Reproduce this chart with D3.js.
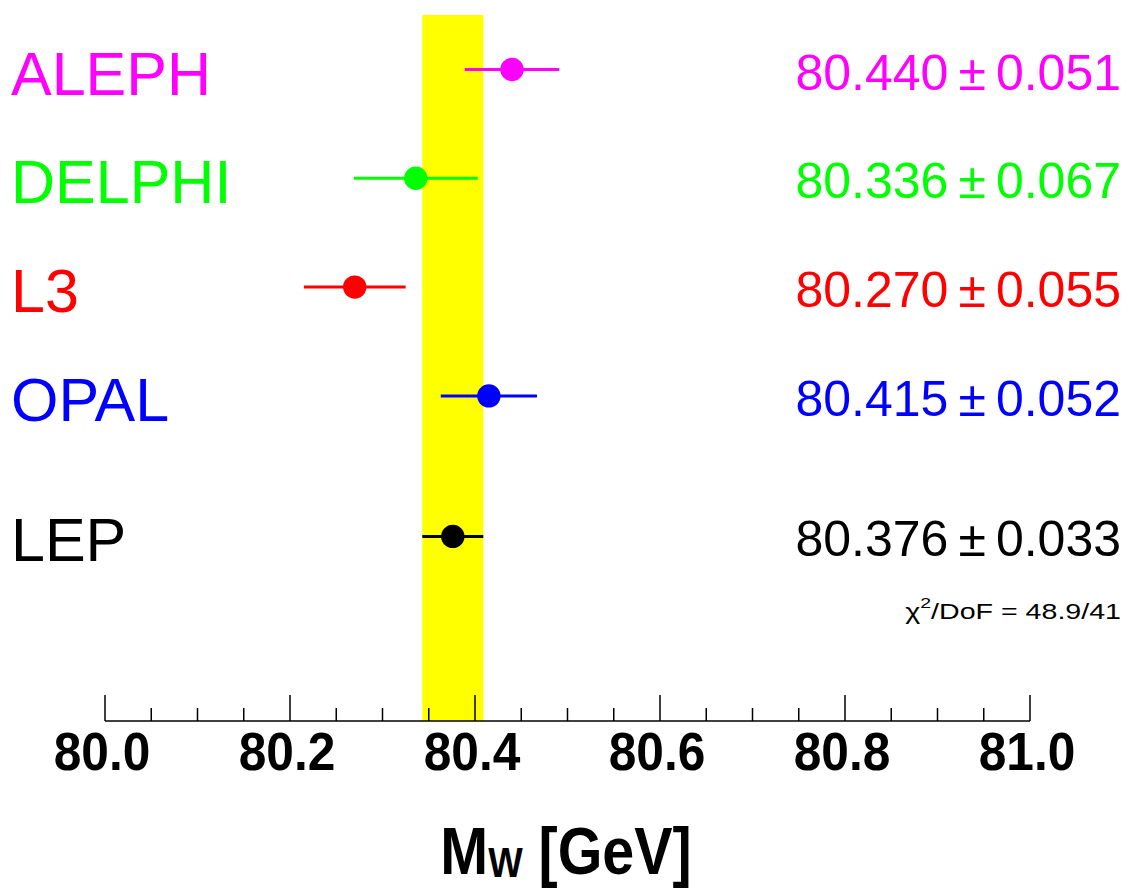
<!DOCTYPE html>
<html>
<head>
<meta charset="utf-8">
<script src="https://cdn.jsdelivr.net/npm/d3@7"></script>
<style>
  html, body { margin: 0; padding: 0; background: #fff; }
  svg { display: block; }
  text { font-family: "Liberation Sans", Arial, Helvetica, sans-serif; }
</style>
</head>
<body>
<div id="chart"></div>
<script>
// ---- data ----
const experiments = ["ALEPH", "DELPHI", "L3", "OPAL", "LEP"];
const masses = [80.440, 80.336, 80.270, 80.415, 80.376];
const errors = [0.051, 0.067, 0.055, 0.052, 0.033];
const colors = ["#ff00ff", "#00ff00", "#ff0000", "#0000ff", "#000000"];
const tickLabels = ["80.0", "80.2", "80.4", "80.6", "80.8", "81.0"];
const averageMass = 80.376;
const averageError = 0.033;
const chi2Text = { chi2: "48.9", dof: "41" };

// ---- layout ----
const W = 1128, H = 888;
const axisY = 721;
const bandTop = 15;
const rowTop = 69.5, rowStep = 108.8, lepGap = 140.5;

const svg = d3.select("#chart").append("svg")
  .attr("width", W).attr("height", H);

const x = d3.scaleLinear().domain([80.0, 81.0]).range([105, 1030]);
const rowY = i => i < 4 ? rowTop + i * rowStep : rowTop + 3 * rowStep + lepGap;

// yellow band (LEP average)
svg.append("rect")
  .attr("x", x(averageMass - averageError))
  .attr("y", bandTop)
  .attr("width", x(averageMass + averageError) - x(averageMass - averageError))
  .attr("height", axisY - bandTop)
  .attr("fill", "#ffff00");

// axis
const axisG = svg.append("g");
axisG.append("line")
  .attr("x1", x(80.0)).attr("x2", x(81.0))
  .attr("y1", axisY).attr("y2", axisY)
  .attr("stroke", "#000").attr("stroke-width", 1.5);

const minorTicks = d3.range(0, 21).map(i => 80 + i * 0.05);
axisG.selectAll("line.tick").data(minorTicks).join("line")
  .attr("class", "tick")
  .attr("x1", d => x(d)).attr("x2", d => x(d))
  .attr("y1", axisY)
  .attr("y2", (d, i) => i % 4 === 0 ? axisY - 26 : axisY - 13)
  .attr("stroke", "#000").attr("stroke-width", 1.5);

axisG.selectAll("text.tl").data(tickLabels).join("text")
  .attr("class", "tl")
  .attr("transform", d => `translate(${x(+d) - 3},770) scale(0.92,1)`)
  .attr("text-anchor", "middle")
  .attr("font-weight", "bold")
  .attr("font-size", 54)
  .text(d => d);

// axis title
const title = svg.append("text")
  .attr("transform", "translate(566,874) scale(0.87,1)")
  .attr("text-anchor", "middle")
  .attr("font-weight", "bold")
  .attr("font-size", 66);
title.append("tspan").text("M");
title.append("tspan").attr("font-size", 42).attr("dy", 3).text("W");
title.append("tspan").attr("dy", -3).text(" [GeV]");

// rows
const rows = svg.selectAll("g.row").data(experiments).join("g").attr("class", "row");

rows.append("line")
  .attr("x1", (d, i) => x(masses[i] - errors[i]))
  .attr("x2", (d, i) => x(masses[i] + errors[i]))
  .attr("y1", (d, i) => rowY(i)).attr("y2", (d, i) => rowY(i))
  .attr("stroke", (d, i) => colors[i]).attr("stroke-width", 3);

rows.append("circle")
  .attr("cx", (d, i) => x(masses[i]))
  .attr("cy", (d, i) => rowY(i))
  .attr("r", 11.7)
  .attr("fill", (d, i) => colors[i]);

rows.append("text")
  .attr("x", 11)
  .attr("y", (d, i) => rowY(i) + 25)
  .attr("font-size", 61)
  .attr("fill", (d, i) => colors[i])
  .text(d => d);

rows.append("text")
  .attr("x", 1121)
  .attr("y", (d, i) => rowY(i) + 20)
  .attr("text-anchor", "end")
  .attr("font-size", 50)
  .attr("fill", (d, i) => colors[i])
  .text((d, i) => masses[i].toFixed(3) + "\u2009\u00b1\u2009" + errors[i].toFixed(3));

// chi2 text
const chi = svg.append("text")
  .attr("transform", "translate(1121,619) scale(1.3,1)")
  .attr("text-anchor", "end")
  .attr("font-size", 22);
chi.append("tspan").text("\u03c7");
chi.append("tspan").attr("font-size", 15).attr("dy", -11).text("2");
chi.append("tspan").attr("dy", 11).text("/DoF = " + chi2Text.chi2 + "/" + chi2Text.dof);
</script>
</body>
</html>
